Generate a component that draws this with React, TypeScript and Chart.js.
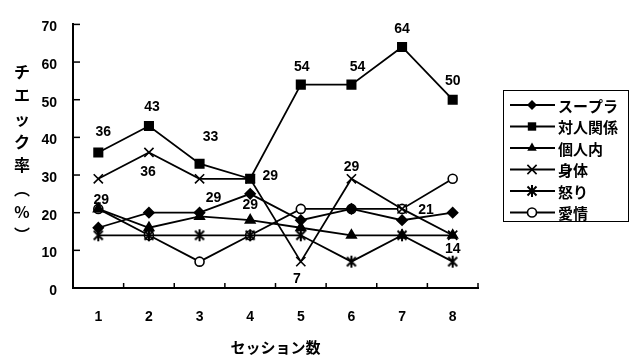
import React, { useEffect, useRef } from 'react';
import { Chart, registerables } from 'chart.js';
Chart.register(...registerables);

// ---- data ----
const categories = ['1', '2', '3', '4', '5', '6', '7', '8'];
const seriesNames = ['スープラ', '対人関係', '個人内', '身体', '怒り', '愛情'];
const supura = [16, 20, 20, 25, 18, 21, 18, 20];
const taijin = [36, 43, 33, 29, 54, 54, 64, 50];
const kojinnai = [21, 16, 19, 18, 16, 14, 14, 14];
const shintai = [29, 36, 29, 29, 7, 29, 21, 14];
const ikari = [14, 14, 14, 14, 14, 7, 14, 7];
const aijou = [21, 14, 7, 14, 21, 21, 21, 29];
const yMin = 0;
const yMax = 70;
const yStep = 10;
const yTitleChars = ['チ', 'エ', 'ッ', 'ク', '率', '︵', '%', '︶'];
const xTitle = 'セッション数';

// label placement (style, px offsets from the point)
const taijinLabelOffsets = [[5, -20], [3, -19], [11, -27], [20, -3], [1, -18], [6, -18], [0, -18], [0, -19]];
const shintaiLabelOffsets = [[3, 21], [-1, 20], [14, 19], [0, 26], [-4, 18], [0, -12], [24, 1], [0, 14]];

const NUM_FONT = "'Liberation Sans', Arial, sans-serif";
const JP_FONT = "'Noto Sans CJK JP', sans-serif";

function drawStarPath(ctx: CanvasRenderingContext2D, x: number, y: number, r: number) {
  const d = r * 0.75;
  ctx.beginPath();
  ctx.moveTo(x - d, y - d); ctx.lineTo(x + d, y + d);
  ctx.moveTo(x + d, y - d); ctx.lineTo(x - d, y + d);
  ctx.moveTo(x, y - r); ctx.lineTo(x, y + r);
  ctx.stroke();
}

function makeStar(): HTMLCanvasElement {
  const c = document.createElement('canvas');
  c.width = 14; c.height = 14;
  const ctx = c.getContext('2d')!;
  ctx.strokeStyle = '#000';
  ctx.lineWidth = 2;
  drawStarPath(ctx, 7, 7, 6);
  return c;
}

type Kind = 'diamond' | 'square' | 'triangle' | 'x' | 'star' | 'circle';
const kinds: Kind[] = ['diamond', 'square', 'triangle', 'x', 'star', 'circle'];

function drawMarker(ctx: CanvasRenderingContext2D, kind: Kind, x: number, y: number) {
  ctx.save();
  ctx.strokeStyle = '#000';
  ctx.fillStyle = '#000';
  ctx.lineWidth = 1.6;
  if (kind === 'diamond') {
    const r = 5;
    ctx.beginPath();
    ctx.moveTo(x - r, y); ctx.lineTo(x, y - r); ctx.lineTo(x + r, y); ctx.lineTo(x, y + r);
    ctx.closePath(); ctx.fill();
  } else if (kind === 'square') {
    const s = 4.2;
    ctx.fillRect(x - s, y - s, 2 * s, 2 * s);
  } else if (kind === 'triangle') {
    const r = 5.5;
    ctx.beginPath();
    ctx.moveTo(x, y - r);
    ctx.lineTo(x + 0.866 * r, y + 0.5 * r);
    ctx.lineTo(x - 0.866 * r, y + 0.5 * r);
    ctx.closePath(); ctx.fill();
  } else if (kind === 'x') {
    const d = 4.6;
    ctx.beginPath();
    ctx.moveTo(x - d, y - d); ctx.lineTo(x + d, y + d);
    ctx.moveTo(x + d, y - d); ctx.lineTo(x - d, y + d);
    ctx.stroke();
  } else if (kind === 'star') {
    ctx.lineWidth = 2;
    drawStarPath(ctx, x, y, 6);
  } else if (kind === 'circle') {
    ctx.fillStyle = '#fff';
    ctx.beginPath(); ctx.arc(x, y, 4.5, 0, Math.PI * 2); ctx.fill(); ctx.stroke();
  }
  ctx.restore();
}

const decorPlugin = {
  id: 'decor',
  afterDatasetsDraw(chart: any) {
    const ctx: CanvasRenderingContext2D = chart.ctx;
    const xs = chart.scales.x;
    const ys = chart.scales.y;
    const area = chart.chartArea;
    ctx.save();
    ctx.strokeStyle = '#000';
    ctx.lineWidth = 1.5;
    // inward y ticks
    ys.ticks.forEach((t: any) => {
      const y = ys.getPixelForValue(t.value);
      ctx.beginPath(); ctx.moveTo(area.left, y); ctx.lineTo(area.left + 7, y); ctx.stroke();
    });
    // inward x ticks at category boundaries
    for (let i = 0; i <= categories.length; i++) {
      const x = xs.getPixelForValue(i - 0.5);
      ctx.beginPath(); ctx.moveTo(x, area.bottom); ctx.lineTo(x, area.bottom - 5); ctx.stroke();
    }
    // data labels
    ctx.fillStyle = '#000';
    ctx.font = `bold 14px ${NUM_FONT}`;
    ctx.textAlign = 'center';
    ctx.textBaseline = 'middle';
    const labelSets: [number, number[], number[][]][] = [
      [1, taijin, taijinLabelOffsets],
      [3, shintai, shintaiLabelOffsets],
    ];
    labelSets.forEach(([di, vals, offs]) => {
      const meta = chart.getDatasetMeta(di);
      meta.data.forEach((pt: any, j: number) => {
        ctx.fillText(String(vals[j]), pt.x + offs[j][0], pt.y + offs[j][1]);
      });
    });
    // y title, stacked vertically
    ctx.font = `bold 16px ${JP_FONT}`;
    yTitleChars.forEach((ch, i) => {
      ctx.fillText(ch, 22, 72 + i * 23.3);
    });
    // legend
    const lx = 503, ly = 90, lw = 125, lh = 131;
    ctx.lineWidth = 1;
    ctx.strokeRect(lx + 0.5, ly + 0.5, lw, lh);
    ctx.font = `bold 15px ${JP_FONT}`;
    ctx.textAlign = 'left';
    seriesNames.forEach((name, i) => {
      const y = 105 + i * 21.5;
      ctx.lineWidth = 1.8;
      ctx.beginPath(); ctx.moveTo(510, y); ctx.lineTo(555, y); ctx.stroke();
      drawMarker(ctx, kinds[i], 532, y);
      ctx.fillStyle = '#000';
      ctx.fillText(name, 558, y + 1);
    });
    ctx.restore();
  },
};

export default function App() {
  const ref = useRef<HTMLCanvasElement>(null);
  useEffect(() => {
    const canvas = ref.current!;
    const star = makeStar();
    const base = {
      borderColor: '#000',
      borderWidth: 1.8,
      pointBorderColor: '#000',
      pointBackgroundColor: '#000',
      pointBorderWidth: 1.6,
      tension: 0,
      fill: false,
      clip: false as any,
    };
    const chart = new Chart(canvas, {
      type: 'line',
      data: {
        labels: categories,
        datasets: [
          { ...base, label: seriesNames[0], data: supura, pointStyle: 'rectRot', pointRadius: 5 },
          { ...base, label: seriesNames[1], data: taijin, pointStyle: 'rect', pointRadius: 6 },
          { ...base, label: seriesNames[2], data: kojinnai, pointStyle: 'triangle', pointRadius: 5.5 },
          { ...base, label: seriesNames[3], data: shintai, pointStyle: 'crossRot', pointRadius: 6.5 },
          { ...base, label: seriesNames[4], data: ikari, pointStyle: star as any, pointRadius: 6 },
          { ...base, label: seriesNames[5], data: aijou, pointStyle: 'circle', pointRadius: 4.5, pointBackgroundColor: '#fff' },
        ],
      },
      options: {
        responsive: false,
        animation: false,
        devicePixelRatio: 1,
        events: [],
        layout: { padding: { left: 0, right: 158, top: 20, bottom: 0 } },
        plugins: { legend: { display: false }, tooltip: { enabled: false } },
        scales: {
          x: {
            type: 'category',
            offset: true,
            grid: { display: true, offset: true, drawOnChartArea: false, drawTicks: false },
            border: { display: true, color: '#000', width: 2 },
            ticks: { color: '#000', padding: 21, font: { family: NUM_FONT, size: 14, weight: 'bold' } },
            title: {
              display: true, text: xTitle, color: '#000',
              font: { family: JP_FONT, size: 15, weight: 'bold' },
              padding: { top: 0, bottom: 4 },
            },
            afterFit: (s: any) => { s.height = 72; },
          },
          y: {
            min: yMin,
            max: yMax,
            grid: { display: true, drawOnChartArea: false, drawTicks: false },
            border: { display: true, color: '#000', width: 2 },
            ticks: {
              stepSize: yStep, color: '#000', padding: 16, labelOffset: 3,
              font: { family: NUM_FONT, size: 14, weight: 'bold' },
            },
            afterFit: (s: any) => { s.width = 73; },
          },
        },
      },
      plugins: [decorPlugin],
    });
    return () => chart.destroy();
  }, []);
  return (
    <div style={{ position: 'fixed', left: 0, top: 0, width: 636, height: 360, background: '#fff' }}>
      <canvas ref={ref} width={636} height={360} style={{ display: 'block', width: 636, height: 360 }} />
    </div>
  );
}
